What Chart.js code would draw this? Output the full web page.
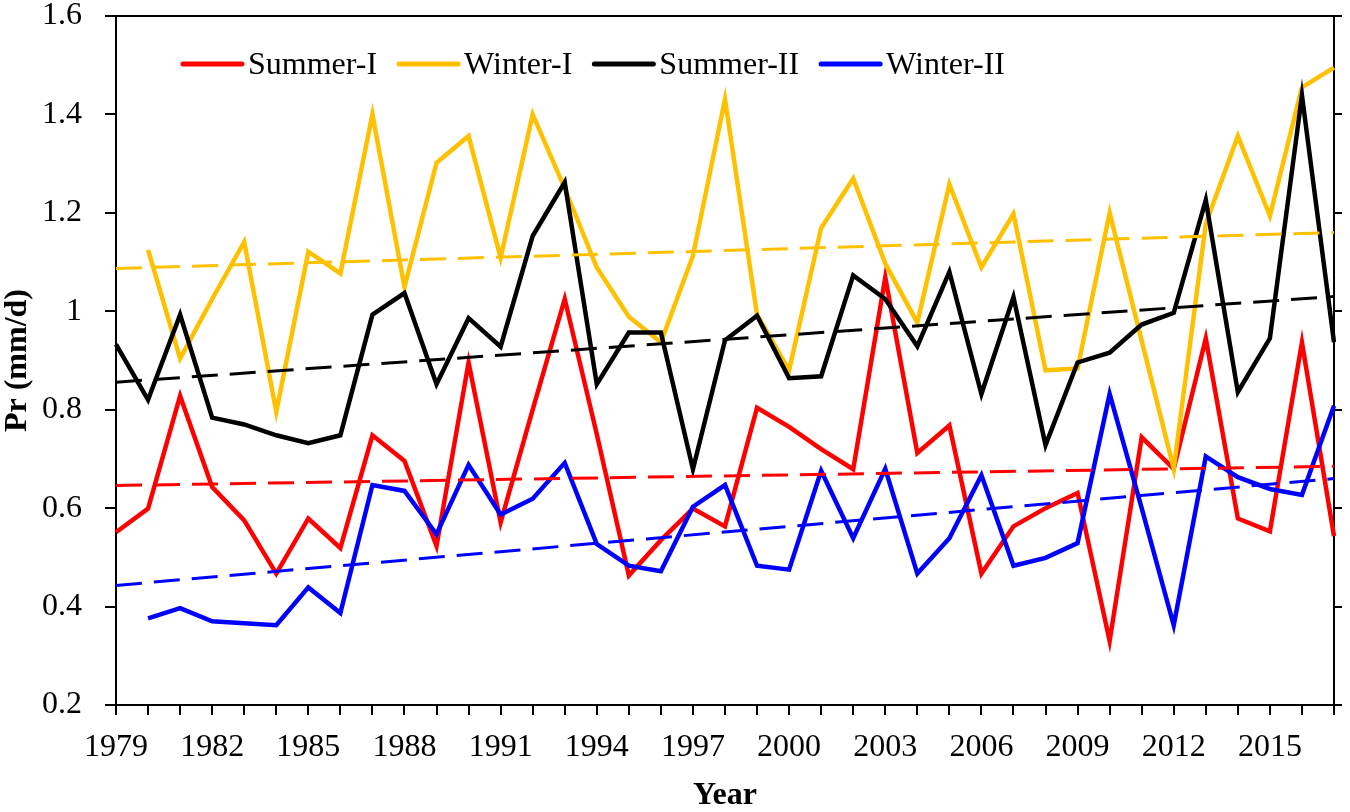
<!DOCTYPE html>
<html>
<head>
<meta charset="utf-8">
<script src="https://cdn.jsdelivr.net/npm/chart.js@4.4.1/dist/chart.umd.min.js"></script>
<style>
  html, body { margin: 0; padding: 0; background: #fff; }
  #wrap { width: 1350px; height: 812px; }
</style>
</head>
<body>
<div id="wrap"><canvas id="c" width="1350" height="812"></canvas></div>
<script>
// ---- data ----
const years = [1979,1980,1981,1982,1983,1984,1985,1986,1987,1988,1989,1990,1991,1992,1993,1994,1995,1996,1997,1998,1999,2000,2001,2002,2003,2004,2005,2006,2007,2008,2009,2010,2011,2012,2013,2014,2015,2016,2017];

const seriesNames = ['Summer-I', 'Winter-I', 'Summer-II', 'Winter-II'];

const summerI = [0.551,0.599,0.828,0.643,0.575,0.467,0.579,0.519,0.748,0.696,0.523,0.896,0.571,0.800,1.025,0.750,0.463,0.535,0.599,0.563,0.804,0.765,0.720,0.679,1.069,0.712,0.768,0.467,0.563,0.600,0.631,0.330,0.744,0.680,0.945,0.579,0.553,0.937,0.543];

const winterI = [null,1.125,0.904,1.025,1.141,0.796,1.121,1.077,1.400,1.049,1.302,1.356,1.109,1.400,1.250,1.089,0.989,0.937,1.113,1.431,0.993,0.880,1.169,1.270,1.097,0.977,1.258,1.089,1.198,0.880,0.884,1.200,0.940,0.680,1.178,1.356,1.194,1.455,1.495];

const summerII = [0.933,0.820,0.993,0.784,0.770,0.748,0.732,0.748,0.993,1.037,0.852,0.986,0.928,1.153,1.262,0.852,0.957,0.957,0.679,0.941,0.991,0.864,0.868,1.073,1.025,0.929,1.080,0.832,1.029,0.728,0.896,0.916,0.973,0.997,1.226,0.836,0.945,1.439,0.937];

const winterII = [null,0.376,0.397,0.370,0.366,0.362,0.439,0.387,0.647,0.635,0.547,0.688,0.587,0.619,0.692,0.527,0.483,0.472,0.603,0.647,0.483,0.475,0.676,0.539,0.680,0.467,0.539,0.667,0.483,0.499,0.529,0.832,0.600,0.362,0.705,0.663,0.639,0.627,0.808];

// linear trend lines: value at first and last year (Summer-I, Winter-I, Summer-II, Winter-II)
const trendStart = [0.646, 1.087, 0.856, 0.443];
const trendEnd   = [0.685, 1.160, 1.030, 0.660];

const yTickValues = [0.2, 0.4, 0.6, 0.8, 1.0, 1.2, 1.4, 1.6];
const yTickLabels = ['0.2', '0.4', '0.6', '0.8', '1', '1.2', '1.4', '1.6'];

// ---- styles ----
const colors = ['#FF0000', '#FFC000', '#000000', '#0000FF'];
const FONT = 'Liberation Serif, Times New Roman, serif';

const values = [summerI, winterI, summerII, winterII];

function trendData(i) {
  return years.map((y, k) => k === 0 ? trendStart[i] : (k === years.length - 1 ? trendEnd[i] : null));
}

const datasets = [];
values.forEach((v, i) => {
  datasets.push({
    label: seriesNames[i],
    data: v,
    borderColor: colors[i],
    backgroundColor: colors[i],
    borderWidth: 4.5,
    pointRadius: 0,
    tension: 0,
    fill: false,
    order: 4 - i,
    isMain: true
  });
});
values.forEach((v, i) => {
  datasets.push({
    label: seriesNames[i] + ' trend',
    data: trendData(i),
    borderColor: colors[i],
    borderWidth: 3,
    borderDash: [26, 12],
    pointRadius: 0,
    tension: 0,
    spanGaps: true,
    fill: false,
    order: 0
  });
});

const legendPlugin = {
  id: 'inLegend',
  afterDraw(chart) {
    const ctx = chart.ctx;
    ctx.save();
    ctx.font = '32px ' + FONT;
    ctx.textBaseline = 'middle';
    ctx.textAlign = 'left';
    let x = chart.chartArea.left + 67;
    const y = chart.chartArea.top + 48;
    chart.data.datasets.filter(d => d.isMain).forEach(d => {
      ctx.strokeStyle = d.borderColor;
      ctx.lineWidth = 5;
      ctx.lineCap = 'round';
      ctx.beginPath();
      ctx.moveTo(x, y);
      ctx.lineTo(x + 59, y);
      ctx.stroke();
      x += 65;
      ctx.fillStyle = '#000';
      ctx.fillText(d.label, x, y + 2);
      x += ctx.measureText(d.label).width + 22;
    });
    ctx.restore();
  }
};

function noPad(s) { s.paddingTop = 0; s.paddingBottom = 0; }

new Chart(document.getElementById('c'), {
  type: 'line',
  data: { labels: years.map(String), datasets },
  options: {
    responsive: false,
    animation: false,
    layout: { padding: 0 },
    plugins: { legend: { display: false }, tooltip: { enabled: false } },
    scales: {
      x: {
        type: 'category',
        position: 'bottom',
        offset: false,
        afterFit(s) { s.height = 107; s.paddingLeft = 0; s.paddingRight = 0; },
        grid: { display: true, drawOnChartArea: false, drawTicks: true, tickLength: 10, color: '#000', lineWidth: 2 },
        border: { display: true, color: '#000', width: 2 },
        ticks: {
          autoSkip: false, maxRotation: 0, minRotation: 0, padding: 13,
          color: '#000', font: { family: FONT, size: 32 },
          callback(val, idx) { return (years[idx] - years[0]) % 3 === 0 ? String(years[idx]) : ''; }
        },
        title: { display: true, text: 'Year', color: '#000', font: { family: FONT, size: 32, weight: 'bold', lineHeight: 1 }, padding: { top: 0, bottom: 0 } }
      },
      x2: {
        type: 'category',
        position: 'top',
        offset: false,
        afterFit(s) { s.height = 16; s.paddingLeft = 0; s.paddingRight = 0; },
        grid: { display: false, drawTicks: false },
        border: { display: true, color: '#000', width: 2 },
        ticks: { display: false }
      },
      y: {
        type: 'linear',
        position: 'left',
        min: 0.2, max: 1.6,
        afterFit(s) { s.width = 116; noPad(s); },
        afterBuildTicks(s) { s.ticks = yTickValues.map(v => ({ value: v })); },
        grid: { display: true, drawOnChartArea: false, drawTicks: true, tickLength: 11, color: '#000', lineWidth: 2 },
        border: { display: true, color: '#000', width: 2 },
        ticks: {
          padding: 23, color: '#000', font: { family: FONT, size: 32 },
          callback(v) { const i = yTickValues.findIndex(t => Math.abs(t - v) < 1e-6); return i >= 0 ? yTickLabels[i] : ''; }
        },
        title: { display: true, text: 'Pr (mm/d)', color: '#000', font: { family: FONT, size: 32, weight: 'bold', lineHeight: 1 }, padding: { top: 2, bottom: 0 } }
      },
      y2: {
        type: 'linear',
        position: 'right',
        min: 0.2, max: 1.6,
        afterFit(s) { s.width = 16; noPad(s); },
        afterBuildTicks(s) { s.ticks = yTickValues.map(v => ({ value: v })); },
        grid: { display: true, drawOnChartArea: false, drawTicks: true, tickLength: 8, color: '#000', lineWidth: 2 },
        border: { display: true, color: '#000', width: 2 },
        ticks: { display: false }
      }
    }
  },
  plugins: [legendPlugin]
});
</script>
</body>
</html>
